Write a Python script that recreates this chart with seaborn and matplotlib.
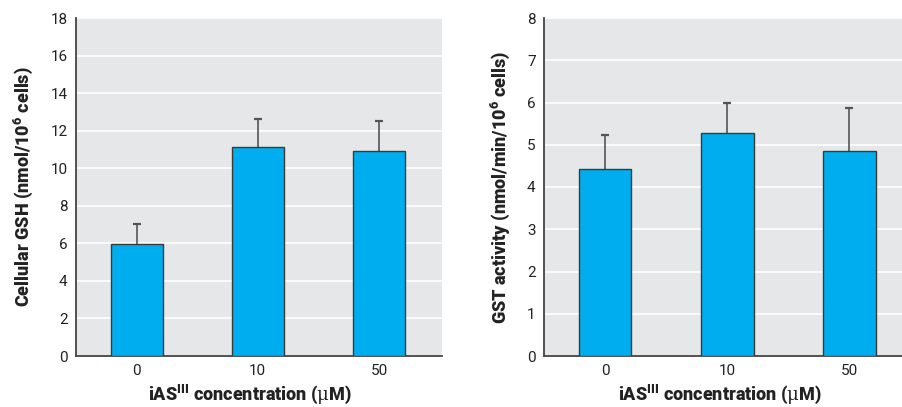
import matplotlib
matplotlib.use("Agg")
import matplotlib.pyplot as plt
import seaborn as sns
import pandas as pd
import numpy as np

concentrations = ["0", "10", "50"]
gsh_mean = [5.95, 11.15, 10.9]
gsh_err = [1.1, 1.45, 1.6]
gst_mean = [4.42, 5.28, 4.86]
gst_err = [0.8, 0.7, 1.02]

sns.set_theme(style="white")
plt.rcParams['font.family'] = ['Roboto', 'DejaVu Sans']
plt.rcParams['mathtext.fontset'] = 'custom'
plt.rcParams['mathtext.rm'] = 'Roboto'
plt.rcParams['mathtext.bf'] = 'Roboto:black'
plt.rcParams['mathtext.it'] = 'DejaVu Serif'

BAR = "#00AEEF"
BG = "#E6E7E8"

fig = plt.figure(figsize=(9.02, 4.07), dpi=100)
ax1 = fig.add_axes([76/902, 1-356/407, (442-76)/902, (356-18)/407])
ax2 = fig.add_axes([544/902, 1-356/407, (902-544)/902, (356-18)/407])

def panel(ax, means, errs, ymax, ylabel, xlim_right, xlabel_x):
    df = pd.DataFrame({"conc": concentrations, "val": means})
    ax.set_facecolor(BG)
    sns.barplot(data=df, x="conc", y="val", color=BAR, saturation=1,
                edgecolor="#3a3a3a", linewidth=1.0, width=0.43, ax=ax, zorder=3)
    eb = ax.errorbar(np.arange(len(means)), means, yerr=[np.zeros(len(errs)), errs],
                     fmt="none", ecolor="#555555", elinewidth=1.2, capsize=3,
                     capthick=1.6, zorder=2)
    eb[1][0].set_visible(False)
    ax.set_ylim(0, ymax)
    ax.set_yticks(range(0, ymax + 1, 2 if ymax > 10 else 1))
    ax.yaxis.grid(True, color="white", linewidth=1.2, zorder=0)
    ax.set_axisbelow(True)
    ax.set_xlim(-0.5, xlim_right)
    for s in ["top", "right"]:
        ax.spines[s].set_visible(False)
    for s in ["left", "bottom"]:
        ax.spines[s].set_color("#444444")
        ax.spines[s].set_linewidth(1.3)
    ax.tick_params(axis="both", length=0, labelsize=11, colors="#222222", pad=6)
    ax.set_ylabel(ylabel, fontsize=13, fontweight="black", labelpad=11, color="#222222")
    ax.set_xlabel(r"iAS$^{\mathbf{III}}$ concentration ($\mathit{\mu}$M)", fontsize=13,
                  fontweight="black", labelpad=3, color="#222222")
    ax.xaxis.label.set_x(xlabel_x)

panel(ax1, gsh_mean, gsh_err, 18, r"Cellular GSH (nmol/10$^{\mathbf{6}}$ cells)", 2.52, 0.475)
panel(ax2, gst_mean, gst_err, 8, r"GST activity (nmol/min/10$^{\mathbf{6}}$ cells)", 2.43, 0.49)

fig.savefig("out.png", dpi=100)
